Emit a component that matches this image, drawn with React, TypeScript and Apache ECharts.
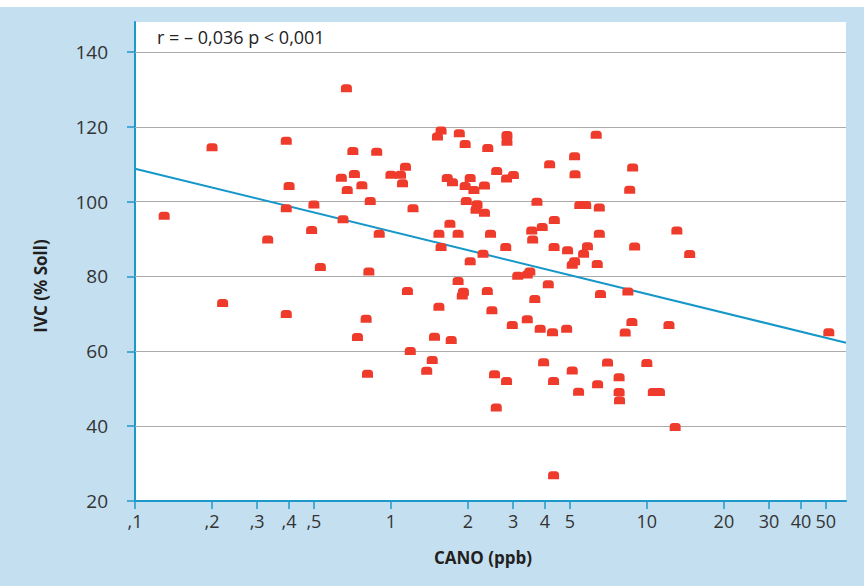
import React, { useEffect, useRef } from "react";
import * as echarts from "echarts";

// CANO (ppb) values of the patients
const canoPpb = [
  0.13, 0.2, 0.22, 0.33, 0.39, 0.4, 0.39, 0.39, 0.5, 0.49, 0.53,
  0.67, 0.64, 0.72, 0.675, 0.71, 0.65, 0.77, 0.74, 0.83, 0.88, 0.9, 0.82, 0.8, 0.81,
  1.0, 1.09, 1.11, 1.14, 1.22, 1.16, 1.19, 1.38, 1.45, 1.48,
  1.52, 1.57, 1.54, 1.57, 1.54, 1.7, 1.66, 1.74, 1.72,
  1.85, 1.95, 1.83, 1.83, 1.92, 1.9, 1.97, 1.95, 2.04, 2.04, 2.11, 2.15, 2.17,
  2.32, 2.32, 2.29, 2.38, 2.39, 2.45, 2.48, 2.54, 2.58, 2.59,
  2.83, 2.84, 2.84, 2.81, 2.83, 2.98, 3.01, 3.13, 3.41, 3.49, 3.41,
  3.55, 3.58, 3.65, 3.72, 3.83, 3.9, 3.95, 4.12, 4.17, 4.28, 4.35, 4.34, 4.32, 4.32,
  4.86, 4.9, 5.11, 5.11, 5.22, 5.22, 5.24, 5.41, 5.47, 5.77, 5.66, 5.86,
  6.34, 6.4, 6.42, 6.52, 6.52, 6.59, 7.02, 7.79, 7.79, 7.82,
  8.23, 8.43, 8.57, 8.8, 8.74, 8.96, 10.0, 10.6, 11.2, 12.2, 12.9, 13.1, 14.7, 51.4,
];

// IVC (% Soll) values, same order
const ivcPercent = [
  96.2, 114.5, 72.9, 89.9, 116.3, 104.2, 98.2, 70.0, 99.2, 92.4, 82.5,
  130.3, 106.4, 107.4, 103.1, 113.5, 95.3, 104.4, 63.8, 100.2, 113.3, 91.4, 81.3, 68.7, 54.0,
  107.2, 107.2, 104.9, 109.3, 98.2, 76.1, 60.1, 54.8, 57.7, 63.9,
  117.4, 119.0, 91.4, 87.9, 71.9, 94.1, 106.3, 105.2, 63.0,
  118.3, 115.4, 91.4, 78.8, 75.9, 74.9, 100.2, 104.2, 106.3, 84.1, 103.1, 97.8, 99.3,
  104.3, 97.0, 86.1, 76.1, 114.3, 91.4, 71.0, 53.9, 45.0, 108.2,
  106.2, 117.8, 116.0, 87.9, 52.1, 67.0, 107.1, 80.2, 80.5, 81.3, 68.6,
  92.3, 89.9, 74.0, 100.0, 66.0, 93.2, 57.1, 77.9, 110.0, 65.1, 95.1, 87.9, 52.1, 26.9,
  66.0, 87.0, 54.9, 83.1, 84.1, 112.1, 107.3, 49.2, 99.1, 99.1, 86.1, 88.1,
  117.9, 83.3, 51.2, 98.4, 91.4, 75.3, 57.0, 53.1, 49.1, 46.9,
  65.0, 76.0, 103.2, 109.1, 67.8, 88.0, 56.9, 49.1, 49.1, 67.0, 39.8, 92.3, 86.0, 65.1,
];

// regression line end points
const fitX = [0.1, 60];
const fitY = [108.8, 62.3];

const xTickValues = [0.1, 0.2, 0.3, 0.4, 0.5, 1, 2, 3, 4, 5, 10, 20, 30, 40, 50];
const yTickValues = [20, 40, 60, 80, 100, 120, 140];
const gridValues = [40, 60, 80, 100, 120, 140];

const xTitle = "CANO (ppb)";
const yTitle = "IVC (% Soll)";
const annotation = "r = – 0,036 p < 0,001";

const FONT = "'Open Sans', 'Noto Sans', sans-serif";
const AXIS_BLUE = "#1c98cc";
const MARKER = "path://M0,8 L0,3.5 Q0,0 3.5,0 L7.5,0 Q11,0 11,3.5 L11,8 Z";

export default function App() {
  const ref = useRef<HTMLDivElement>(null);

  useEffect(() => {
    if (!ref.current) return;
    const chart = echarts.init(ref.current, null, { renderer: "svg" });
    const points = canoPpb.map((x, i) => [x, ivcPercent[i]]);
    const fit = fitX.map((x, i) => [x, fitY[i]]);

    chart.setOption({
      animation: false,
      backgroundColor: "#c3dff0",
      textStyle: { fontFamily: FONT },
      grid: {
        left: 135,
        right: 18,
        top: 22,
        bottom: 85,
        show: true,
        backgroundColor: "#ffffff",
        borderWidth: 0,
      },
      xAxis: {
        type: "log",
        logBase: 10,
        min: 0.1,
        max: 60,
        axisLine: { lineStyle: { color: AXIS_BLUE, width: 2 } },
        axisTick: {
          show: true,
          length: 8,
          customValues: xTickValues,
          lineStyle: { color: AXIS_BLUE, width: 1.5 },
        },
        axisLabel: {
          customValues: xTickValues,
          color: "#333",
          fontSize: 18,
          fontFamily: FONT,
          margin: 11,
          formatter: (v: number) => (v < 1 ? "," + String(v).slice(2) : String(v)),
        },
        splitLine: { show: false },
        minorTick: { show: false },
        minorSplitLine: { show: false },
      },
      yAxis: {
        type: "value",
        min: 20,
        max: 148,
        axisLine: { show: true, lineStyle: { color: AXIS_BLUE, width: 2 } },
        axisTick: {
          show: true,
          length: 8,
          customValues: yTickValues,
          lineStyle: { color: AXIS_BLUE, width: 1.5 },
        },
        axisLabel: {
          customValues: yTickValues,
          color: "#333",
          fontSize: 19,
          fontFamily: FONT,
          margin: 27,
        },
        splitLine: { show: false },
      },
      series: [
        {
          type: "line",
          data: fit,
          symbol: "none",
          z: 2,
          lineStyle: { color: "#1597c9", width: 2 },
          silent: true,
          markLine: {
            silent: true,
            symbol: "none",
            label: { show: false },
            lineStyle: { color: "#ababab", width: 1.2, type: "solid" },
            data: gridValues.map((v) => ({ yAxis: v })),
            z: 1,
          },
        },
        {
          type: "scatter",
          data: points,
          symbol: MARKER,
          symbolSize: [11, 8],
          z: 3,
          itemStyle: { color: "#ee3b2c", opacity: 1 },
        },
      ],
      graphic: [
        {
          type: "rect",
          shape: { x: 0, y: 0, width: 864, height: 7 },
          style: { fill: "#ffffff" },
          silent: true,
        },
        {
          type: "text",
          x: 157,
          y: 37,
          style: {
            text: annotation,
            fontSize: 18,
            fontFamily: FONT,
            fill: "#222",
            verticalAlign: "middle",
            align: "left",
          },
        },
        {
          type: "text",
          x: 483,
          y: 557,
          style: {
            text: xTitle,
            fontSize: 17,
            fontWeight: "bold",
            fontFamily: FONT,
            fill: "#231f20",
            verticalAlign: "middle",
            align: "center",
          },
        },
        {
          type: "text",
          x: 40,
          y: 286,
          rotation: Math.PI / 2,
          style: {
            text: yTitle,
            fontSize: 17,
            fontWeight: "bold",
            fontFamily: FONT,
            fill: "#231f20",
            verticalAlign: "middle",
            align: "center",
          },
        },
      ],
    });

    return () => chart.dispose();
  }, []);

  return (
    <div
      ref={ref}
      style={{ position: "fixed", left: 0, top: 0, width: 864, height: 586 }}
    />
  );
}
